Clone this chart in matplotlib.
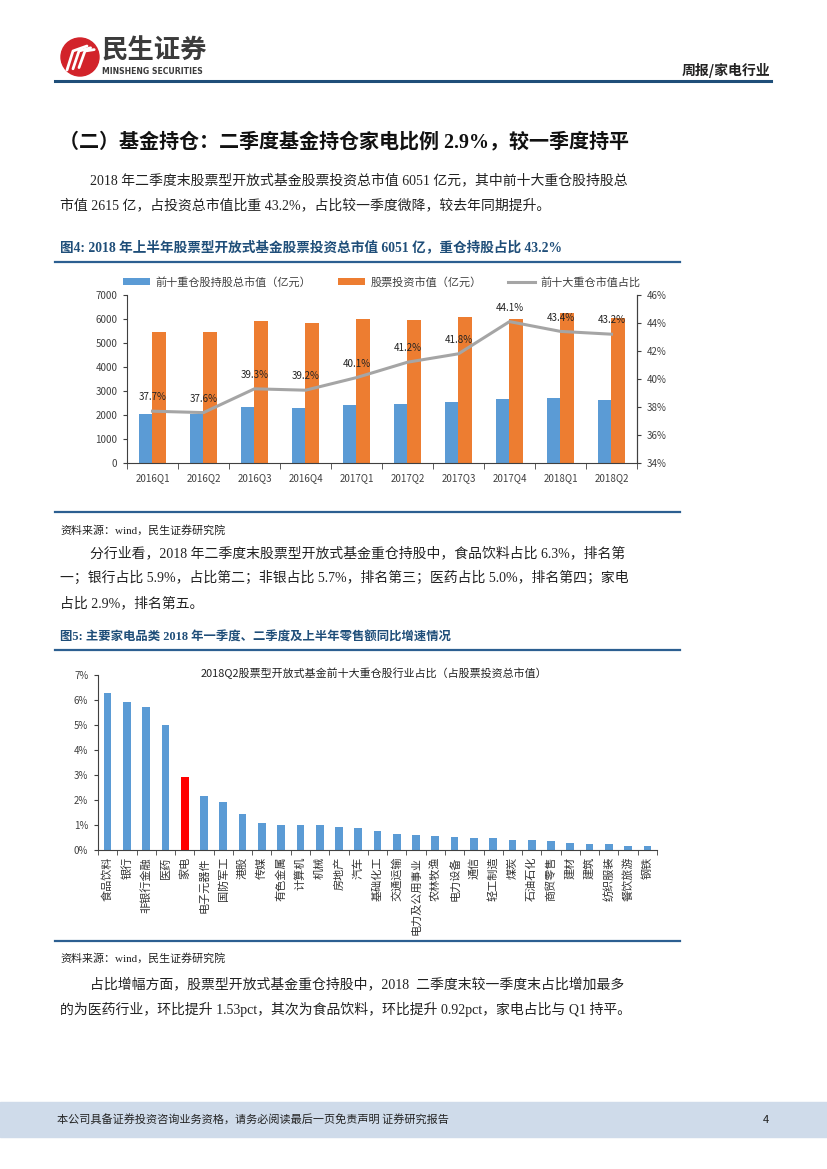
import numpy as np
import matplotlib
matplotlib.use('Agg')
import matplotlib.pyplot as plt
from matplotlib.patches import Rectangle, Circle, Patch
from matplotlib.lines import Line2D

W, H = 827, 1169

# ---------------- data ----------------
quarters = ['2016Q1', '2016Q2', '2016Q3', '2016Q4', '2017Q1',
            '2017Q2', '2017Q3', '2017Q4', '2018Q1', '2018Q2']
top10_value = [2062, 2057, 2330, 2285, 2410, 2455, 2541, 2650, 2712, 2615]
stock_value = [5470, 5470, 5930, 5830, 6010, 5960, 6080, 6010, 6250, 6051]
top10_ratio = [37.7, 37.6, 39.3, 39.2, 40.1, 41.2, 41.8, 44.1, 43.4, 43.2]

industries = ['食品饮料', '银行', '非银行金融', '医药', '家电', '电子元器件', '国防军工',
              '港股', '传媒', '有色金属', '计算机', '机械', '房地产', '汽车', '基础化工',
              '交通运输', '电力及公用事业', '农林牧渔', '电力设备', '通信', '轻工制造',
              '煤炭', '石油石化', '商贸零售', '建材', '建筑', '纺织服装', '餐饮旅游', '钢铁']
industry_share = [6.30, 5.92, 5.72, 5.00, 2.93, 2.15, 1.93, 1.46, 1.08, 1.02, 1.01,
                  0.99, 0.94, 0.90, 0.75, 0.64, 0.61, 0.57, 0.54, 0.49, 0.48, 0.42,
                  0.40, 0.38, 0.28, 0.24, 0.23, 0.17, 0.17]
y1_ticks = [0, 1000, 2000, 3000, 4000, 5000, 6000, 7000]
y2_ticks = [34, 36, 38, 40, 42, 44, 46]
y3_ticks = [0, 1, 2, 3, 4, 5, 6, 7]

# ---------------- styles ----------------
BLUE = '#5b9bd5'
ORANGE = '#ed7d31'
GRAY = '#a5a5a5'
RED = '#ff0000'
NAVY = '#1f4e79'
LINEBLUE = '#2c5f91'
AXC = '#404040'
SANS = ['Noto Sans CJK SC', 'DejaVu Sans']
SERIF = ['Liberation Serif', 'Noto Sans CJK SC']
plt.rcParams['font.family'] = SANS

fig = plt.figure(figsize=(W / 100, H / 100), dpi=100)


def box(x0, y0, x1, y1):
    return [x0 / W, 1 - y1 / H, (x1 - x0) / W, (y1 - y0) / H]


def T(x, y, s, size, ha='left', va='center', family=SERIF, **kw):
    fig.text(x / W, 1 - y / H, s, fontsize=size, ha=ha, va=va, family=family, **kw)


def HL(x0, x1, y, color=LINEBLUE, lw=1.6):
    fig.add_artist(Line2D([x0 / W, x1 / W], [1 - y / H, 1 - y / H], color=color, lw=lw))


BODY = 9.97

# ---------------- header ----------------
lax = fig.add_axes(box(60, 37, 100, 77))
lax.set_xlim(0, 40)
lax.set_ylim(40, 0)
lax.set_aspect('equal')
lax.axis('off')
lax.add_patch(Circle((20, 20), 19, color='#d2232a'))
for dx in (0, 6, 12):
    lax.plot([7 + dx, 13 + dx, 27 + dx * 0.6], [33 - dx * 0.2, 14, 9 + dx * 0.3],
             color='white', lw=2.0, solid_capstyle='round')
T(102, 51, '民生证券', 19, family=SANS, fontweight='bold', color='#3b3b3b')
T(102, 71, 'MINSHENG SECURITIES', 5.6, family=['DejaVu Sans'], fontweight='bold', color='#3b3b3b')
T(770, 70, '周报/家电行业', 10, ha='right', family=SANS, fontweight='bold', color='#222222')
HL(55, 771, 81, color=NAVY, lw=2.2)

# ---------------- section text ----------------
T(59, 142, '（二）基金持仓：二季度基金持仓家电比例 2.9%，较一季度持平', 14.45,
  fontweight='bold', color='#111111')
T(90, 180, '2018 年二季度末股票型开放式基金股票投资总市值 6051 亿元，其中前十大重仓股持股总', BODY, color='#222222')
T(60, 205, '市值 2615 亿，占投资总市值比重 43.2%，占比较一季度微降，较去年同期提升。', BODY, color='#222222')

T(60, 247, '图4: 2018 年上半年股票型开放式基金股票投资总市值 6051 亿，重仓持股占比 43.2%', 9.8,
  fontweight='bold', color=NAVY)
HL(55, 680, 262)

# ---------------- chart 1 ----------------
ax1 = fig.add_axes(box(127, 295, 637, 463))
x = np.arange(len(quarters))
bw = 0.255
b1 = ax1.bar(x - bw / 2, top10_value, bw, color=BLUE, zorder=2)
b2 = ax1.bar(x + bw / 2, stock_value, bw, color=ORANGE, zorder=2)
ax1.set_xlim(-0.5, len(quarters) - 0.5)
ax1.set_ylim(0, 7000)
ax1.set_yticks(y1_ticks)
ax1.set_xticks(x)
ax1.set_xticklabels(quarters)
ax1.set_xticks(np.arange(-0.5, len(quarters)), minor=True)
ax1.tick_params(axis='x', which='major', length=0, pad=7, labelsize=7, labelcolor=AXC)
ax1.tick_params(axis='x', which='minor', length=4, direction='out', color=AXC)
ax1.tick_params(axis='y', length=3, direction='out', color=AXC, labelsize=7, labelcolor=AXC, pad=4)
ax1.spines['top'].set_visible(False)
for s in ('left', 'bottom', 'right'):
    ax1.spines[s].set_color(AXC)
    ax1.spines[s].set_linewidth(0.8)

ax2 = ax1.twinx()
ln, = ax2.plot(x, top10_ratio, color=GRAY, lw=2.2, zorder=3)
ax2.set_ylim(34, 46)
ax2.set_yticks(y2_ticks)
ax2.set_yticklabels([f'{v}%' for v in y2_ticks])
ax2.tick_params(axis='y', length=3, direction='out', color=AXC, labelsize=7, labelcolor=AXC, pad=4)
for s in ('top', 'left', 'bottom'):
    ax2.spines[s].set_visible(False)
ax2.spines['right'].set_color(AXC)
ax2.spines['right'].set_linewidth(0.8)
for xi, v in zip(x, top10_ratio):
    ax2.annotate(f'{v:.1f}%', (xi, v), xytext=(0, 10), textcoords='offset points',
                 ha='center', va='center', fontsize=7, color='#222222')

fig.legend([b1, b2, ln], ['前十重仓股持股总市值（亿元）', '股票投资市值（亿元）', '前十大重仓市值占比'],
           loc='center', bbox_to_anchor=(382 / W, 1 - 282 / H), ncol=3, frameon=False,
           fontsize=8.0, handlelength=2.4, handleheight=0.7, handletextpad=0.5,
           columnspacing=2.4, labelcolor='#404040')

HL(55, 680, 512)
T(60, 530, '资料来源：wind，民生证券研究院', 7.9, color='#222222')

T(90, 553, '分行业看，2018 年二季度末股票型开放式基金重仓持股中，食品饮料占比 6.3%，排名第', BODY, color='#222222')
T(60, 578, '一；银行占比 5.9%，占比第二；非银占比 5.7%，排名第三；医药占比 5.0%，排名第四；家电', BODY, color='#222222')
T(60, 603, '占比 2.9%，排名第五。', BODY, color='#222222')

T(60, 638, '图5: 主要家电品类 2018 年一季度、二季度及上半年零售额同比增速情况', 8.9,
  fontweight='bold', color=NAVY)
HL(55, 680, 650)

# ---------------- chart 2 ----------------
ax3 = fig.add_axes(box(98, 675, 657, 850))
xi3 = np.arange(len(industries))
cols = [RED if n == '家电' else BLUE for n in industries]
ax3.bar(xi3, industry_share, 0.4, color=cols, zorder=2)
ax3.set_xlim(-0.5, len(industries) - 0.5)
ax3.set_ylim(0, 7)
ax3.set_yticks(y3_ticks)
ax3.set_yticklabels([f'{v}%' for v in y3_ticks])
ax3.set_xticks(xi3)
ax3.set_xticklabels(industries, rotation=90)
ax3.set_xticks(np.arange(-0.5, len(industries)), minor=True)
ax3.tick_params(axis='x', which='major', length=0, pad=5, labelsize=8, labelcolor='#333333')
ax3.tick_params(axis='x', which='minor', length=3.5, direction='out', color=AXC)
ax3.tick_params(axis='y', length=3, direction='out', color=AXC, labelsize=7, labelcolor=AXC, pad=4)
for s in ('top', 'right'):
    ax3.spines[s].set_visible(False)
for s in ('left', 'bottom'):
    ax3.spines[s].set_color(AXC)
    ax3.spines[s].set_linewidth(0.8)
T(374, 673, '2018Q2股票型开放式基金前十大重仓股行业占比（占股票投资总市值）', 7.9,
  ha='center', family=SANS, color='#222222')

HL(55, 680, 941)
T(60, 958, '资料来源：wind，民生证券研究院', 7.9, color='#222222')
T(90, 984, '占比增幅方面，股票型开放式基金重仓持股中，2018  二季度末较一季度末占比增加最多', BODY, color='#222222')
T(60, 1009, '的为医药行业，环比提升 1.53pct，其次为食品饮料，环比提升 0.92pct，家电占比与 Q1 持平。', BODY, color='#222222')

# ---------------- footer ----------------
fig.add_artist(Rectangle((0, 1 - 1137 / H), 1, 35 / H, transform=fig.transFigure,
                         color='#cfdbea', zorder=0))
T(57, 1120, '本公司具备证券投资咨询业务资格，请务必阅读最后一页免责声明 证券研究报告', 8.0,
  family=SANS, color='#222222')
T(766, 1120, '4', 8, ha='center', family=SANS, color='#222222')

fig.savefig('out.png', dpi=100)
